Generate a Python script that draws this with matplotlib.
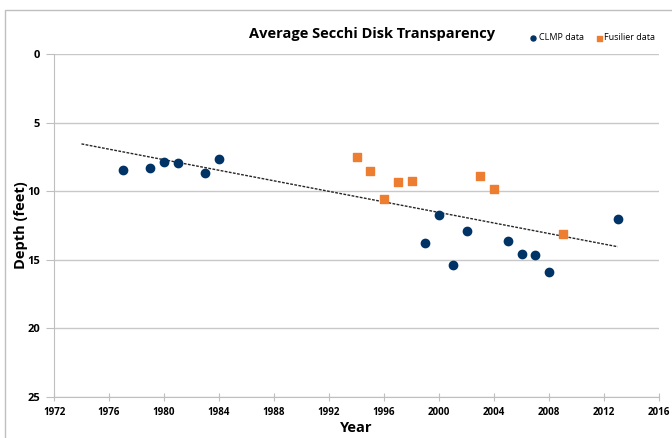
import matplotlib.pyplot as plt
import numpy as np
from matplotlib.patches import Rectangle

plt.rcParams['font.family'] = ['Open Sans', 'DejaVu Sans']

# CLMP data
clmp_years = [1977, 1979, 1980, 1981, 1983, 1984, 1999, 2000, 2001, 2002, 2005, 2006, 2007, 2008, 2013]
clmp_depth = [8.45, 8.3, 7.87, 7.94, 8.67, 7.65, 13.77, 11.75, 15.36, 12.88, 13.65, 14.6, 14.63, 15.89, 12.0]

# Fusilier data
fus_years = [1994, 1995, 1996, 1997, 1998, 2003, 2004, 2009]
fus_depth = [7.53, 8.55, 10.55, 9.3, 9.25, 8.87, 9.84, 13.14]

# trendline span (years)
trend_span = [1974, 2013]

x_ticks = list(range(1972, 2017, 4))
y_ticks = [0, 5, 10, 15, 20, 25]

fig = plt.figure(figsize=(6.72, 4.38), dpi=100)
ax = fig.add_axes([54 / 672, 1 - 397 / 438, 605 / 672, 343 / 438])

# outer chart border
fig.patches.append(Rectangle((5 / 672, -0.01), 1.0, 1 - 10 / 438 + 0.01, transform=fig.transFigure,
                             fill=False, edgecolor='#bfbfbf', linewidth=1.0))

# trendline fitted on all points
all_x = np.array(clmp_years + fus_years)
all_y = np.array(clmp_depth + fus_depth)
coef = np.polyfit(all_x, all_y, 1)
tx = np.array(trend_span)
ax.plot(tx, np.polyval(coef, tx), linestyle=(0, (2, 1)), color='#262626', linewidth=1.0, zorder=2)

ax.scatter(clmp_years, clmp_depth, marker='o', s=36, color='#003366', label='CLMP data', zorder=3)
ax.scatter(fus_years, fus_depth, marker='s', s=36, color='#ed7d31', label='Fusilier data', zorder=3)

ax.set_xlim(1972, 2016)
ax.set_ylim(25, 0)
ax.set_xticks(x_ticks)
ax.set_yticks(y_ticks)
ax.tick_params(axis='x', labelsize=7, direction='inout', length=6, color='#bfbfbf', pad=4)
ax.tick_params(axis='y', labelsize=8, length=6, color='#bfbfbf', pad=4)
for lbl in ax.get_xticklabels() + ax.get_yticklabels():
    lbl.set_fontweight('bold')

ax.grid(axis='y', color='#c8c8c8', linewidth=1.0)
ax.set_axisbelow(True)
for side in ['top', 'right']:
    ax.spines[side].set_visible(False)
ax.spines['left'].set_color('#bfbfbf')
ax.spines['bottom'].set_color('#bfbfbf')

ax.set_xlabel('Year', fontsize=10.5, fontweight='bold')
ax.xaxis.set_label_coords(0.5, -24 / 343)
ax.set_ylabel('Depth (feet)', fontsize=10.5, fontweight='bold')
ax.yaxis.set_label_coords(-26 / 605, 0.5)

fig.text(372 / 672, 1 - 34 / 438, 'Average Secchi Disk Transparency', fontsize=10.5,
         fontweight='bold', ha='center', va='center')

fig.legend(loc='center', bbox_to_anchor=(592 / 672, 1 - 38 / 438), ncol=2, frameon=False,
           fontsize=6.5, markerscale=0.6, handletextpad=0.1, columnspacing=1.2, handlelength=1.0)

fig.savefig('out.png', dpi=100)
